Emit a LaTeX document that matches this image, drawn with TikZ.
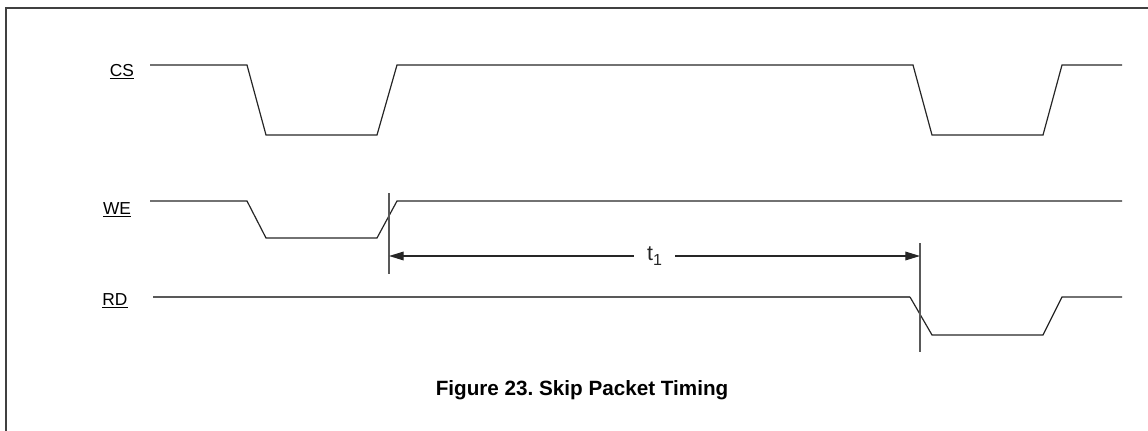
\documentclass[tikz,border=0pt]{standalone}
\usepackage{fontspec}
\setmainfont{Liberation Sans}
\usetikzlibrary{arrows.meta}
\frenchspacing

\begin{document}
\begin{tikzpicture}[x=0.75pt, y=-0.75pt, >={Triangle[length=11pt, width=6.5pt]}]
  \useasboundingbox (0,0) rectangle (1148,431);
  \tikzset{
    wave/.style={black!85, line width=0.9pt},
    marker/.style={black!65, line width=0.9pt},
    siglabel/.style={font=\fontsize{13}{15}\selectfont, inner sep=0pt}
  }

  % Frame (only top and left edges are shown)
  \draw[black!75, line width=1.5pt] (1148,8) -- (6,8) -- (6,431);

  % Signal names
  \node[siglabel] (cs) at (122,72) {\underline{CS}};
  \node[siglabel] (we) at (117,210) {\underline{WE}};
  \node[siglabel] (rd) at (115,301) {\underline{RD}};

  % CS waveform
  \draw[wave] (150,65) -- (247,65) -- (266,135) -- (377,135) -- (397,65)
    -- (913,65) -- (932,135) -- (1043,135) -- (1062,65) -- (1122,65);

  % WE waveform
  \draw[wave] (150,201) -- (247,201) -- (266,238) -- (377,238) -- (397,201)
    -- (1122,201);

  % RD waveform
  \draw[marker] (153,297) -- (910,297);
  \draw[wave] (910,297) -- (932,335) -- (1043,335) -- (1062,297) -- (1122,297);

  % Reference markers
  \coordinate (m1top) at (389,193);
  \coordinate (m1bot) at (389,274);
  \coordinate (m2top) at (920,243);
  \coordinate (m2bot) at (920,352);
  \draw[marker] (m1top) -- (m1bot);
  \draw[marker] (m2top) -- (m2bot);

  % t1 interval
  \coordinate (t1a) at (389,256);
  \coordinate (t1b) at (920,256);
  \draw[wave, <->] (t1a) -- (t1b)
    node[midway, fill=white, inner xsep=10pt, inner ysep=2pt, font=\fontsize{16}{18}\selectfont] (t1) {t\raisebox{-0.4ex}{\fontsize{12}{14}\selectfont 1}};

  % Caption
  \node[font=\fontsize{15.5}{18}\selectfont\bfseries] (caption) at (582,390) {Figure 23. Skip Packet Timing};
\end{tikzpicture}
\end{document}
